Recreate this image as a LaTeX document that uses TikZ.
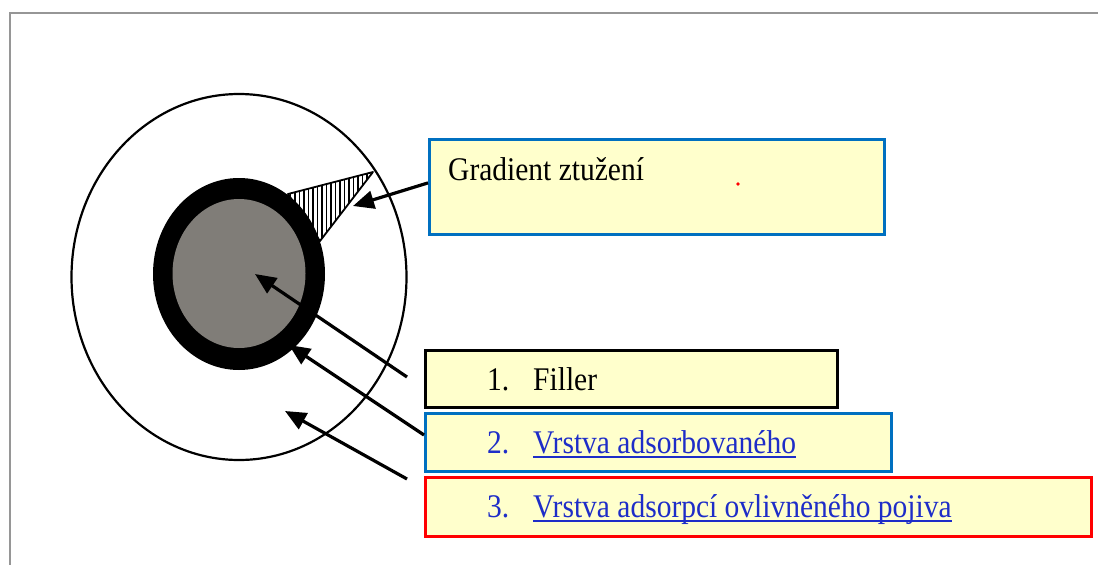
\documentclass[tikz,border=0pt]{standalone}
\usepackage{fontspec}
\setmainfont{Liberation Serif}
\usetikzlibrary{arrows.meta}
\definecolor{boxfill}{RGB}{255,255,204}
\definecolor{boxblue}{RGB}{0,112,192}
\definecolor{linkblue}{RGB}{30,45,200}
\definecolor{coregrey}{RGB}{128,125,120}
\definecolor{framegrey}{RGB}{150,150,150}
\newcommand{\tallt}[1]{\scalebox{1}[1.12]{#1}}
\begin{document}
\begin{tikzpicture}[x=1pt,y=-1pt,
  box/.style={draw, fill=boxfill, line width=2.8pt, anchor=north west, inner sep=0pt},
  lbl/.style={inner sep=0pt, anchor=base west, font=\fontsize{29.5}{34}\selectfont},
  link/.style={lbl, text=linkblue},
  uline/.style={linkblue, line width=1.6pt},
  arr/.style={line width=3.2pt, -{Triangle[length=21pt,width=18pt]}}]
\useasboundingbox (0,0) rectangle (1098,565);
% frame
\draw[framegrey, line width=2pt] (10,565) -- (10,13) -- (1098,13);
% outer circle
\draw[line width=2.2pt] (239,277) ellipse [x radius=167.5, y radius=183];
% hatched triangle
\coordinate (ta) at (288,194);
\coordinate (tb) at (373,172);
\coordinate (tc) at (320,241);
\begin{scope}
  \clip (ta) -- (tb) -- (tc) -- cycle;
  \foreach \x in {286,290.5,...,376} \draw[line width=1.5pt] (\x,165) -- (\x,245);
\end{scope}
\draw[line width=1.8pt, line join=round] (ta) -- (tb) -- (tc) -- cycle;
% core
\fill[black] (239,274) ellipse [x radius=86, y radius=96];
\fill[coregrey] (239,273.5) ellipse [x radius=66.5, y radius=74.5];
% boxes
\node[box, draw=boxblue, minimum width=455pt, minimum height=95pt] (grad) at (428,138) {};
\node[box, draw=black, minimum width=412pt, minimum height=57pt] (b1) at (424,349) {};
\node[box, draw=boxblue, minimum width=466pt, minimum height=58pt] (b2) at (424,412) {};
\node[box, draw=red, line width=3.2pt, minimum width=666pt, minimum height=59pt] (b3) at (424,476) {};
% labels
\node[lbl] (gtxt) at (448,180) {\tallt{Gradient ztužení}};
\fill[red] (738,184) circle (1.8pt);
\node[lbl] (n1) at (487,390) {\tallt{1.}};
\node[lbl] (t1) at (533,390) {\tallt{Filler}};
\node[link] (n2) at (487,453) {\tallt{2.}};
\node[link] (t2) at (533,453) {\tallt{Vrstva adsorbovaného}};
\draw[uline] ([yshift=-4pt]t2.base west) -- ([yshift=-4pt]t2.base east);
\node[link] (n3) at (487,517) {\tallt{3.}};
\node[link] (t3) at (533,517) {\tallt{Vrstva adsorpcí ovlivněného pojiva}};
\draw[uline] ([yshift=-4pt]t3.base west) -- ([yshift=-4pt]t3.base east);
% arrows
\coordinate (gtip) at (353,206);
\draw[arr] ([yshift=4pt]grad.west) -- (gtip);
\coordinate (a1s) at (407,377);
\coordinate (a1t) at (255,274);
\draw[arr] (a1s) -- (a1t);
\coordinate (a2s) at (b2.west |- 0,435);
\coordinate (a2t) at (289,345);
\draw[arr] (a2s) -- (a2t);
\coordinate (a3s) at (407,479);
\coordinate (a3t) at (285,411);
\draw[arr] (a3s) -- (a3t);
\end{tikzpicture}
\end{document}
